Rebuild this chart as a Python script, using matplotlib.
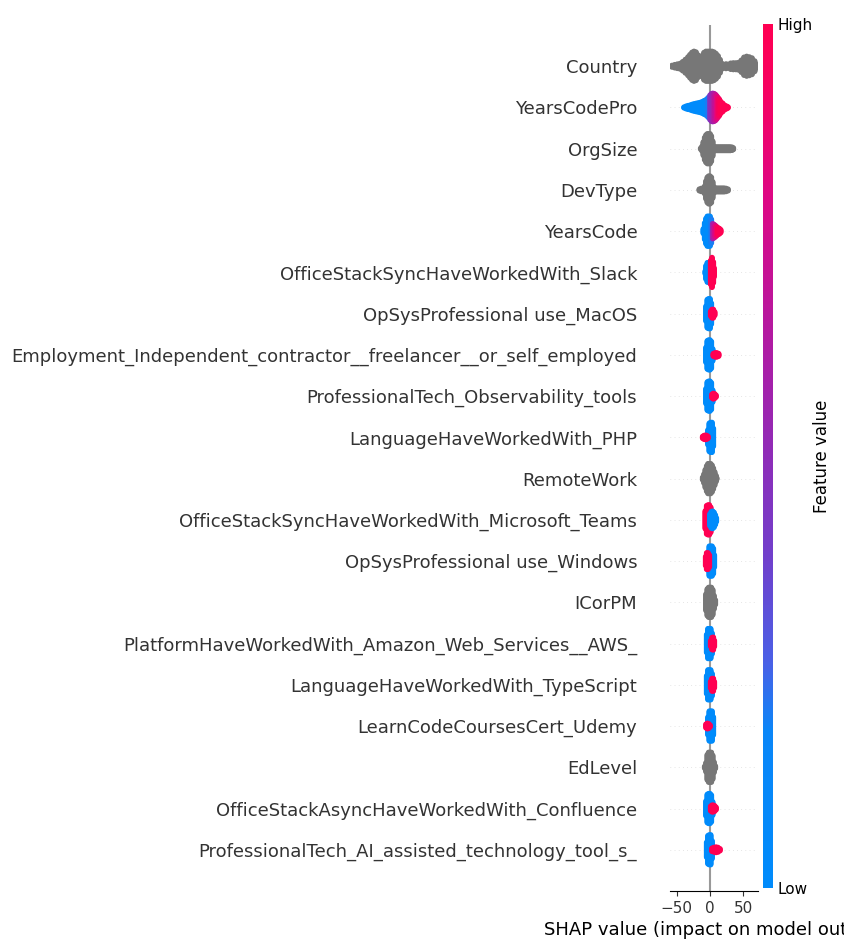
import numpy as np
import matplotlib
matplotlib.use("Agg")
import matplotlib.pyplot as plt
from matplotlib.colors import LinearSegmentedColormap
from matplotlib.cm import ScalarMappable

# features, top to bottom (most important first)
features = [
    "Country",
    "YearsCodePro",
    "OrgSize",
    "DevType",
    "YearsCode",
    "OfficeStackSyncHaveWorkedWith_Slack",
    "OpSysProfessional use_MacOS",
    "Employment_Independent_contractor__freelancer__or_self_employed",
    "ProfessionalTech_Observability_tools",
    "LanguageHaveWorkedWith_PHP",
    "RemoteWork",
    "OfficeStackSyncHaveWorkedWith_Microsoft_Teams",
    "OpSysProfessional use_Windows",
    "ICorPM",
    "PlatformHaveWorkedWith_Amazon_Web_Services__AWS_",
    "LanguageHaveWorkedWith_TypeScript",
    "LearnCodeCoursesCert_Udemy",
    "EdLevel",
    "OfficeStackAsyncHaveWorkedWith_Confluence",
    "ProfessionalTech_AI_assisted_technology_tool_s_",
]

# swarm bins: (shap value, swarm height 0-1, feature value 0-1 / None = no value)
G = None
country = [(-57, .05, G), (-53, .10, G), (-49, .14, G), (-45, .18, G), (-41, .30, G),
           (-37, .45, G), (-33, .62, G), (-30, .78, G), (-27, .93, G), (-24, 1.0, G),
           (-21, .95, G), (-18, .75, G), (-15, .45, G), (-12, .70, G), (-9, .92, G),
           (-6, 1.0, G), (-3, 1.0, G), (0, 1.0, G), (3, 1.0, G), (6, .95, G), (9, .85, G),
           (12, .70, G), (15, .45, G), (18, .18, G), (21, .10, G), (24, .15, G), (27, .12, G),
           (31, .20, G), (35, .22, G), (39, .22, G), (43, .25, G), (47, .40, G), (51, .60, G),
           (55, .66, G), (59, .62, G), (63, .55, G), (67, .35, G), (70, .10, G)]
years_code_pro = [(-39, .02, 0), (-36, .08, 0), (-33, .12, 0), (-30, .15, 0), (-27, .20, 0),
                  (-24, .24, 0), (-21, .27, 0), (-18, .30, 0), (-15, .33, 0), (-12, .38, 0),
                  (-9, .45, 0), (-6, .52, .05), (-3, .65, .2), (0, .82, .4), (2, .92, .5),
                  (4, .95, .55), (6, .93, .62), (8, .88, .7), (10, .78, .8), (12, .66, .88),
                  (14, .55, .95), (16, .40, 1), (19, .28, 1), (22, .15, 1), (25, .08, 1), (27, .03, 1)]
org_size = [(-14, .03, G), (-12, .15, G), (-10, .45, G), (-8, .75, G), (-6, .92, G), (-4, 1.0, G),
            (-2, 1.0, G), (0, 1.0, G), (2, .85, G), (4, .50, G), (6, .15, G), (9, .12, G),
            (12, .12, G), (15, .12, G), (18, .12, G), (21, .12, G), (24, .12, G), (27, .12, G),
            (30, .12, G), (33, .10, G), (35, .05, G)]
dev_type = [(-16, .05, G), (-13, .10, G), (-10, .12, G), (-8, .25, G), (-6, .60, G), (-4, .85, G),
            (-2, .93, G), (0, .93, G), (2, .85, G), (4, .55, G), (6, .20, G), (9, .12, G),
            (12, .12, G), (15, .12, G), (18, .12, G), (21, .12, G), (24, .10, G), (27, .05, G)]
years_code = [(-10, .15, 0), (-8, .55, 0), (-6, .85, 0), (-4, 1.0, 0), (-2, 1.0, 0), (0, 1.0, .05),
              (2, .80, .2), (4, .50, .55), (6, .45, .65), (8, .38, .8), (10, .30, .9),
              (12, .22, 1), (14, .18, 1), (16, .10, 1)]
slack = [(-7, .10, 0), (-6, .45, 0), (-4, .65, 0), (-2, .65, 0), (-0.5, .50, 0),
         (1, .80, 1), (3, 1.0, 1), (5, .70, 1), (6, .30, 1)]
macos = [(-6, .50, 0), (-4, .95, 0), (-2, 1.0, 0), (0, 1.0, 0), (2, .70, 0),
         (1, .15, 1), (3, .28, 1), (5, .28, 1), (7, .12, 1)]
freelancer = [(-6, .50, 0), (-4, .95, 0), (-2, 1.0, 0), (0, 1.0, 0), (2, .90, 0), (4, .40, 0),
              (5, .08, 1), (7, .12, 1), (9, .14, 1), (11, .12, 1), (13, .08, 1)]
observability = [(-6, .50, 0), (-4, .95, 0), (-2, 1.0, 0), (0, 1.0, 0), (2, .90, 0), (4, .40, 0),
                 (3, .12, 1), (5, .18, 1), (7, .15, 1), (9, .06, 1)]
php = [(-3, .50, 0), (-1, .95, 0), (1, 1.0, 0), (3, 1.0, 0), (5, .60, 0),
       (-11, .06, 1), (-9, .12, 1), (-7, .14, 1), (-5, .12, 1), (-3, .06, 1)]
remote_work = [(-11, .08, G), (-9, .30, G), (-7, .60, G), (-5, .85, G), (-3, 1.0, G), (-1, 1.0, G),
               (1, 1.0, G), (3, .90, G), (5, .70, G), (7, .45, G), (9, .20, G), (10, .05, G)]
teams = [(-7, .60, 1), (-5, .95, 1), (-3, 1.0, 1), (-1, 1.0, 1), (1, .85, 1), (2.5, .50, 1),
         (0, .40, 0), (2, .55, 0), (4, .58, 0), (6, .50, 0), (8, .32, 0), (9.5, .12, 0)]
windows = [(-3, .60, 0), (-1, 1.0, 0), (1, 1.0, 0), (3, 1.0, 0), (5, .85, 0), (6.5, .40, 0),
           (-6.5, .30, 1), (-5, .55, 1), (-3, .55, 1), (-1, .40, 1)]
icorpm = [(-6, .55, G), (-4, .90, G), (-2, 1.0, G), (0, 1.0, G), (2, 1.0, G), (4, .85, G),
          (6, .45, G), (8, .15, G)]
aws = [(-5, .60, 0), (-3, 1.0, 0), (-1, 1.0, 0), (1, 1.0, 0), (3, .70, 0),
       (1, .18, 1), (3, .40, 1), (5, .42, 1), (6.5, .20, 1)]
typescript = [(-5, .60, 0), (-3, 1.0, 0), (-1, 1.0, 0), (1, 1.0, 0), (3, .75, 0), (5, .30, 0),
              (1, .22, 1), (3, .42, 1), (5, .42, 1), (6.5, .20, 1)]
udemy = [(-3, .60, 0), (-1, 1.0, 0), (1, 1.0, 0), (3, 1.0, 0), (5, .60, 0),
         (-6, .12, 1), (-4, .18, 1), (-2, .15, 1), (0, .06, 1)]
ed_level = [(-8, .06, G), (-6, .30, G), (-4, .85, G), (-2, 1.0, G), (0, 1.0, G), (2, 1.0, G),
            (4, .80, G), (6, .35, G), (8, .08, G)]
confluence = [(-6, .50, 0), (-4, .95, 0), (-2, 1.0, 0), (0, 1.0, 0), (2, .90, 0), (4, .45, 0),
              (1, .15, 1), (3, .22, 1), (5, .22, 1), (7, .18, 1), (9, .08, 1)]
ai_tools = [(-5, .50, 0), (-3, .95, 0), (-1, 1.0, 0), (1, 1.0, 0), (3, .60, 0),
            (3, .10, 1), (6, .15, 1), (9, .18, 1), (12, .15, 1), (15, .06, 1)]

rows = [country, years_code_pro, org_size, dev_type, years_code, slack, macos, freelancer,
        observability, php, remote_work, teams, windows, icorpm, aws, typescript, udemy,
        ed_level, confluence, ai_tools]

cmap = LinearSegmentedColormap.from_list("red_blue", [
    (0.00, "#008bfb"), (0.18, "#0a86f8"), (0.26, "#4a60e6"), (0.38, "#7040cc"),
    (0.50, "#8f2cb8"), (0.62, "#ad1ca5"), (0.80, "#dd0784"), (0.92, "#f50262"),
    (1.00, "#ff0052")])

fig = plt.figure(figsize=(8.44, 9.4), dpi=100)
ax = fig.add_axes([670 / 844, 49 / 940, 88 / 844, 866 / 940])

n = len(features)
xs, ys, cs = [], [], []
for i, bins in enumerate(rows):
    pos = n - 1 - i
    ax.axhline(y=pos, color="#cccccc", lw=0.5, dashes=(1, 5), zorder=-1)
    for x, h, c in bins:
        half = h * 0.36
        k = max(1, int(round(2 * half / 0.02)) + 1)
        col = (0.467, 0.467, 0.467, 1.0) if c is None else cmap(float(c))
        for yy in np.linspace(-half, half, k):
            xs.append(x)
            ys.append(pos + yy)
            cs.append(col)
ax.scatter(xs, ys, s=16, c=cs, linewidths=0, rasterized=True, zorder=3)
ax.axvline(x=0, color="#999999", zorder=-1)

ax.set_xlim(-60, 72)
ax.set_ylim(-1, n)
ax.set_xticks([-50, 0, 50])
ax.set_yticks(range(n))
ax.set_yticklabels(features[::-1], fontsize=13)
ax.tick_params(color="#333333", labelcolor="#333333")
ax.tick_params("y", length=20, width=0.5, left=False)
ax.tick_params("x", labelsize=11)
for s in ["right", "top", "left"]:
    ax.spines[s].set_visible(False)
ax.set_xlabel("SHAP value (impact on model output)", fontsize=13)

cax = fig.add_axes([763 / 844, 52 / 940, 10 / 844, 864 / 940])
sm = ScalarMappable(cmap=cmap)
sm.set_array([0, 1])
cb = fig.colorbar(sm, cax=cax, ticks=[0, 1])
cb.set_ticklabels(["Low", "High"])
cb.set_label("Feature value", size=12, labelpad=0)
cb.ax.tick_params(labelsize=11, length=0)
cb.outline.set_visible(False)

fig.savefig("out.png", dpi=100)
